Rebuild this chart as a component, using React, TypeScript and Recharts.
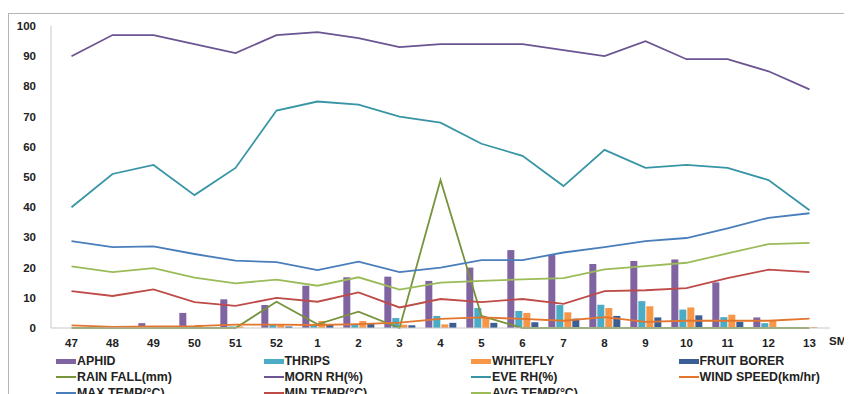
import {
  Bar,
  ComposedChart,
  Line,
  XAxis,
  YAxis
} from 'recharts';

const weeks = ['47', '48', '49', '50', '51', '52', '1', '2', '3', '4', '5', '6', '7', '8', '9', '10', '11', '12', '13'];

const aphid = [0, 0, 1.6, 5, 9.5, 7.6, 14, 16.8, 17, 15.6, 20, 25.8, 24.2, 21.2, 22.2, 22.7, 15.1, 3.5, 0];
const thrips = [0, 0, 0.3, 0, 0.5, 1, 1, 1, 3.3, 4, 6.6, 5.6, 7.6, 7.7, 8.9, 6.1, 3.6, 1.6, 0];
const whitefly = [0.3, 0.3, 0.5, 1, 0.5, 1, 2.3, 2.3, 1.1, 1.2, 3.4, 5, 5.2, 6.6, 7.2, 6.8, 4.4, 2.4, 0.3];
const fruitBorer = [0, 0, 0, 0, 0, 0.5, 1, 1.6, 0.9, 1.7, 1.7, 1.9, 3.1, 4, 3.5, 4.2, 2, 0.3, 0];
const rainFall = [0, 0, 0, 0, 0, 8.7, 1.2, 5.4, 0, 49, 4, 0, 0, 0, 0, 0, 0, 0, 0];
const mornRh = [90, 97, 97, 94, 91, 97, 98, 96, 93, 94, 94, 94, 92, 90, 95, 89, 89, 85, 79];
const eveRh = [40, 51, 54, 44, 53, 72, 75, 74, 70, 68, 61, 57, 47, 59, 53, 54, 53, 49, 39];
const windSpeed = [0.9, 0.4, 0.5, 0.6, 1.1, 1.1, 1, 1.3, 1.8, 3, 3.5, 3, 2.4, 3.6, 2, 2.4, 2.4, 2.4, 3.1];
const maxTemp = [28.8, 26.8, 27, 24.5, 22.3, 21.8, 19.2, 22, 18.5, 20, 22.5, 22.5, 25, 26.8, 28.8, 29.8, 33, 36.5, 38];
const minTemp = [12.2, 10.6, 12.8, 8.6, 7.3, 10, 8.7, 11.8, 6.8, 9.6, 8.6, 9.6, 8, 12.2, 12.5, 13.2, 16.5, 19.3, 18.5];
const avgTemp = [20.4, 18.5, 19.8, 16.7, 14.8, 16, 14, 16.8, 12.7, 15, 15.6, 16.1, 16.5, 19.4, 20.5, 21.6, 24.7, 27.8, 28.2];

const yTicks = [0, 10, 20, 30, 40, 50, 60, 70, 80, 90, 100];

const bars = [
  { key: 'aphid', name: 'APHID', color: '#8064A2', values: aphid },
  { key: 'thrips', name: 'THRIPS', color: '#4BACC6', values: thrips },
  { key: 'whitefly', name: 'WHITEFLY', color: '#F79646', values: whitefly },
  { key: 'fruitBorer', name: 'FRUIT BORER', color: '#3A5F96', values: fruitBorer }
];

const lines = [
  { key: 'rainFall', name: 'RAIN FALL(mm)', color: '#77933C', values: rainFall },
  { key: 'mornRh', name: 'MORN RH(%)', color: '#6B5492', values: mornRh },
  { key: 'eveRh', name: 'EVE RH(%)', color: '#3795A5', values: eveRh },
  { key: 'windSpeed', name: 'WIND SPEED(km/hr)', color: '#E2762E', values: windSpeed },
  { key: 'maxTemp', name: 'MAX TEMP(°C)', color: '#4A7EBB', values: maxTemp },
  { key: 'minTemp', name: 'MIN TEMP(°C)', color: '#BE4B48', values: minTemp },
  { key: 'avgTemp', name: 'AVG TEMP(°C)', color: '#9BBB59', values: avgTemp }
];

const data = weeks.map((w, i) => {
  const row: Record<string, string | number> = { week: w };
  bars.forEach((b) => (row[b.key] = b.values[i]));
  lines.forEach((l) => (row[l.key] = l.values[i]));
  return row;
});

const legendItems = [
  ...bars.map((b) => ({ ...b, kind: 'bar' })),
  ...lines.map((l) => ({ ...l, kind: 'line' }))
];

const font = '"Liberation Sans", Arial, sans-serif';

export default function App() {
  return (
    <div style={{ position: 'relative', width: 844, height: 386, overflow: 'hidden', fontFamily: font }}>
      <div
        style={{
          position: 'absolute',
          left: 0,
          top: 5,
          width: 900,
          height: 500,
          borderLeft: '1px solid #b5b5b5',
          borderTop: '1px solid #b5b5b5'
        }}
      />
      <div style={{ position: 'absolute', left: 0, top: 0 }}>
        <ComposedChart
          width={844}
          height={342}
          data={data}
          margin={{ top: 18, right: 22, left: 13, bottom: 0 }}
          barCategoryGap='13%'
          barGap={1}
        >
          <XAxis
            dataKey='week'
            stroke='#c8c8c8'
            tickLine={false}
            height={22}
            tick={{ fontSize: 11.5, fontWeight: 700, fill: '#222', fontFamily: font }}
            tickMargin={5}
          />
          <YAxis
            domain={[0, 100]}
            ticks={yTicks}
            stroke='#c8c8c8'
            tickLine={false}
            width={30}
            tickMargin={9}
            tick={{ fontSize: 11.5, fontWeight: 700, fill: '#222', fontFamily: font }}
          />
          {bars.map((b) => (
            <Bar key={b.key} dataKey={b.key} name={b.name} fill={b.color} isAnimationActive={false} />
          ))}
          {lines.map((l) => (
            <Line
              key={l.key}
              type='linear'
              dataKey={l.key}
              name={l.name}
              stroke={l.color}
              strokeWidth={1.8}
              dot={false}
              activeDot={false}
              isAnimationActive={false}
            />
          ))}
        </ComposedChart>
      </div>
      <div
        style={{
          position: 'absolute',
          left: 821,
          top: 327,
          fontSize: 11.5,
          fontWeight: 700,
          color: '#222',
          whiteSpace: 'nowrap'
        }}
      >
        SMW
      </div>
      {legendItems.map((item, i) => {
        const col = i % 4;
        const row = Math.floor(i / 4);
        return (
          <div
            key={item.key}
            style={{
              position: 'absolute',
              left: 48 + col * 207.5,
              top: 346 + row * 16,
              display: 'flex',
              alignItems: 'center',
              fontSize: 12.4,
              fontWeight: 700,
              color: '#222',
              whiteSpace: 'nowrap',
              height: 14
            }}
          >
            <span
              style={{
                display: 'inline-block',
                width: 20,
                height: item.kind === 'bar' ? 5 : 2,
                background: item.color,
                marginRight: 1
              }}
            />
            {item.name}
          </div>
        );
      })}
    </div>
  );
}
